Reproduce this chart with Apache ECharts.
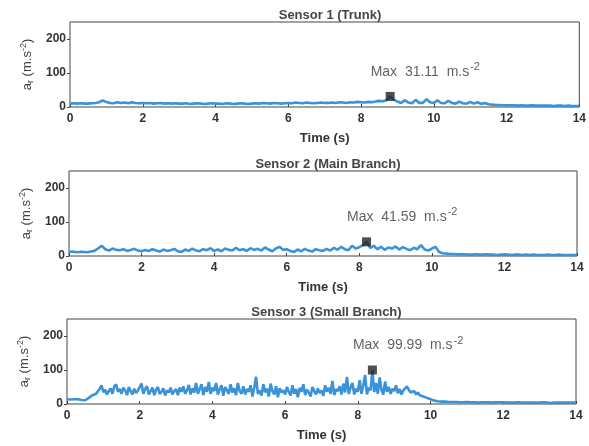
<!DOCTYPE html>
<html>
<head>
<meta charset="utf-8">
<script src="https://cdn.jsdelivr.net/npm/echarts@6/dist/echarts.min.js"></script>
<style>
  html, body { margin: 0; padding: 0; background: #fff; }
  #chart { width: 589px; height: 446px; }
</style>
</head>
<body>
<div id="chart"></div>
<script>
// 时间轴：传感器1、2 步长 0.1 s，传感器3 步长 0.05 s
var time = [];
for (var i = 0; i <= 140; i++) time.push(+(i * 0.1).toFixed(2));
var time3 = [];
for (var j = 0; j <= 280; j++) time3.push(+(j * 0.05).toFixed(2));

var titles = ['Sensor 1 (Trunk)', 'Sensor 2 (Main Branch)', 'Sensor 3 (Small Branch)'];
var xTicks = [0, 2, 4, 6, 8, 10, 12, 14];
var yTicks = [0, 100, 200];

// 传感器1 (树干)
var trunk = [
  10, 11, 10, 11, 10, 10, 11, 12,
  14, 19, 15,
  12, 11, 14, 12, 13, 11, 14, 12, 11, 12,
  11, 12, 10, 11, 12, 10, 11, 10, 11, 10,
  10, 11, 9, 10, 11, 10, 9, 10, 11, 10,
  10, 9, 11, 10, 9, 10, 11, 10, 9, 10,
  11, 10, 12, 11, 10, 12, 11, 10, 11, 12,
  11, 13, 12, 11, 13, 12, 11, 12, 13, 12,
  12, 13, 12, 14, 13, 12, 14, 13, 15, 14,
  13, 15, 14, 16, 18, 17, 20, 31.11, 22, 16,
  12, 20, 13, 11, 21, 12, 12, 23, 14, 12,
  20, 12, 11, 18, 12, 10, 16, 11, 10, 15,
  10, 14, 9, 12, 8, 7, 6, 6, 5, 5,
  5, 5, 4, 5, 4, 4, 5, 4, 4, 4,
  4, 4, 3, 4, 4, 3, 4, 3, 3, 3
];

// 传感器2 (主枝)
var mainBranch = [
  12, 13, 11, 12, 12, 11, 13, 15,
  22, 30, 20,
  16, 22, 18, 17, 20, 15, 18, 21, 16, 14,
  18, 15, 20, 16, 13, 19, 15, 17, 21, 14,
  12, 19, 15, 22, 16, 14, 20, 17, 23, 15,
  19, 14, 22, 18, 16, 24, 17, 20, 15, 23,
  18, 21, 16, 25, 19, 14, 22, 27, 18, 20,
  15, 12, 19, 14, 21, 16, 13, 20, 17, 15,
  21, 16, 24, 18, 27, 20, 17, 30, 22, 26,
  32, 41.59, 24, 30, 20, 27, 18, 25, 22, 28,
  19, 26, 21, 17, 24, 20, 32, 19, 16, 22,
  27, 12, 8, 7, 6, 6, 5, 5, 5, 4,
  4, 5, 4, 4, 5, 4, 4, 3, 4, 4,
  4, 3, 4, 4, 3, 4, 3, 4, 3, 3,
  3, 4, 3, 3, 4, 3, 3, 3, 3, 3
];

// 传感器3 (小枝)，步长 0.05 s
var smallBranch = [
  14, 14, 13, 14, 14, 13, 14, 13, 12, 10,
  11, 14, 18, 22, 26, 24, 30, 28, 45, 55,
  35, 42, 28, 38, 46, 30, 52, 58, 36, 44,
  30, 48, 40, 26, 50, 38, 28, 45, 32, 40,
  35, 60, 30, 44, 52, 28, 38, 48, 26, 42,
  50, 30, 36, 46, 25, 40, 34, 48, 28, 38,
  44, 26, 48, 36, 52, 30, 40, 56, 28, 46,
  34, 62, 30, 44, 58, 26, 50, 36, 65, 30,
  48, 38, 62, 28, 44, 55, 24, 50, 40, 30,
  58, 34, 46, 26, 62, 38, 30, 52, 28, 44,
  36, 55, 22, 48, 80, 30, 40, 25, 58, 35,
  45, 22, 60, 38, 28, 52, 20, 46, 34, 40,
  28, 50, 36, 25, 55, 30, 44, 20, 48, 36,
  58, 26, 42, 34, 22, 50, 38, 28, 46, 32,
  40, 24, 55, 36, 48, 30, 68, 26, 44, 38,
  52, 28, 60, 34, 80, 30, 48, 62, 28, 45,
  36, 70, 30, 55, 85, 28, 48, 40, 99.99, 35,
  62, 30, 78, 42, 28, 66, 36, 50, 30, 45,
  38, 55, 32, 44, 28, 40, 36, 52, 42, 34,
  30, 38, 28, 34, 26, 30, 22, 24, 18, 16,
  14, 12, 10, 9, 8, 8, 7, 7, 7, 6,
  6, 6, 6, 5, 6, 6, 5, 6, 5, 5,
  6, 5, 5, 6, 5, 5, 4, 5, 5, 5,
  5, 4, 5, 5, 4, 5, 5, 4, 5, 4,
  5, 4, 4, 5, 4, 5, 4, 4, 5, 4,
  4, 5, 4, 4, 4, 5, 4, 4, 4, 4,
  4, 4, 5, 4, 4, 4, 3, 4, 4, 4,
  4, 3, 4, 4, 4, 3, 4, 4, 4, 4,
  4
];

var maxTimes = [8.8, 8.2, 8.4];
var maxValues = [31.11, 41.59, 99.99];
var maxLabels = ['31.11', '41.59', '99.99'];

var allTimes = [time, time, time3];
var allSeries = [trunk, mainBranch, smallBranch];
var grids = [
  { left: 70, right: 9, top: 22, height: 85 },
  { left: 69, right: 12, top: 171, height: 85 },
  { left: 67, right: 13, top: 319, height: 85 }
];

function tiexy(x, y) {
  var res = [];
  for (var i = 0; i < x.length; i++) res.push([x[i], y[i]]);
  return res;
}

var axisColor = '#444';
var labelColor = '#333';
var font = 'Liberation Sans';
var option = {
  backgroundColor: '#fff',
  animation: false,
  title: [],
  grid: [],
  xAxis: [],
  yAxis: [],
  series: []
};

for (var k = 0; k < 3; k++) {
  var g = grids[k];
  // 外框由 grid 边框画出
  option.grid.push({
    left: g.left, right: g.right, top: g.top, height: g.height,
    show: true, borderColor: axisColor, borderWidth: 1, backgroundColor: 'transparent'
  });
  option.title.push({
    text: titles[k],
    left: (g.left + (589 - g.right)) / 2,
    textAlign: 'center',
    top: g.top - 18,
    textStyle: { fontFamily: font, fontSize: 13, fontWeight: 'bold', color: '#444' }
  });
  option.xAxis.push({
    gridIndex: k, type: 'value', min: 0, max: 14, interval: 2,
    name: 'Time (s)', nameLocation: 'middle', nameGap: 25,
    nameTextStyle: { fontFamily: font, fontSize: 13, fontWeight: 'bold', color: '#333' },
    axisLine: { show: false },
    axisTick: { show: true, inside: true, length: 3, customValues: xTicks, lineStyle: { color: axisColor } },
    axisLabel: {
      fontFamily: font, fontSize: 12, fontWeight: 'bold', color: labelColor, margin: 6,
      customValues: xTicks
    },
    splitLine: { show: false }
  });
  option.yAxis.push({
    gridIndex: k, type: 'value', min: 0, max: 250, interval: 100,
    name: '{n|a}{sub|r}{n| (m.s}{sup|-2}{n|)}',
    nameLocation: 'middle', nameGap: 33, nameRotate: 90,
    nameTextStyle: {
      color: '#444',
      rich: {
        n: { fontFamily: font, fontSize: 13, color: '#444' },
        sub: { fontFamily: font, fontSize: 9, color: '#444', padding: [7, 0, 0, 0] },
        sup: { fontFamily: font, fontSize: 9, color: '#444', padding: [0, 0, 7, 0] }
      }
    },
    axisLine: { show: false },
    axisTick: { show: true, inside: false, length: 3, customValues: yTicks, lineStyle: { color: axisColor } },
    axisLabel: {
      fontFamily: font, fontSize: 12, fontWeight: 'bold', color: labelColor, margin: 4,
      customValues: yTicks
    },
    splitLine: { show: false }
  });

  option.series.push({
    type: 'line',
    xAxisIndex: k, yAxisIndex: k,
    data: tiexy(allTimes[k], allSeries[k]),
    showSymbol: false,
    lineStyle: { color: '#3a92d8', width: 2.6 },
    z: 2
  });
  option.series.push({
    type: 'scatter',
    xAxisIndex: k, yAxisIndex: k,
    data: [[maxTimes[k], maxValues[k]]],
    symbol: 'rect', symbolSize: 9,
    itemStyle: { color: '#222' },
    label: {
      show: true,
      position: [-15, -20],
      align: 'left',
      verticalAlign: 'middle',
      formatter: '{n|Max  ' + maxLabels[k] + '  m.s}{sup|-2}',
      rich: {
        n: { fontFamily: font, fontSize: 14, color: '#3a3a3a' },
        sup: { fontFamily: font, fontSize: 11, color: '#3a3a3a', padding: [0, 0, 10, 1] }
      }
    },
    z: 3
  });
}

var Chart = echarts.init(document.getElementById('chart'), null, { renderer: 'canvas' });
Chart.setOption(option);
</script>
</body>
</html>
